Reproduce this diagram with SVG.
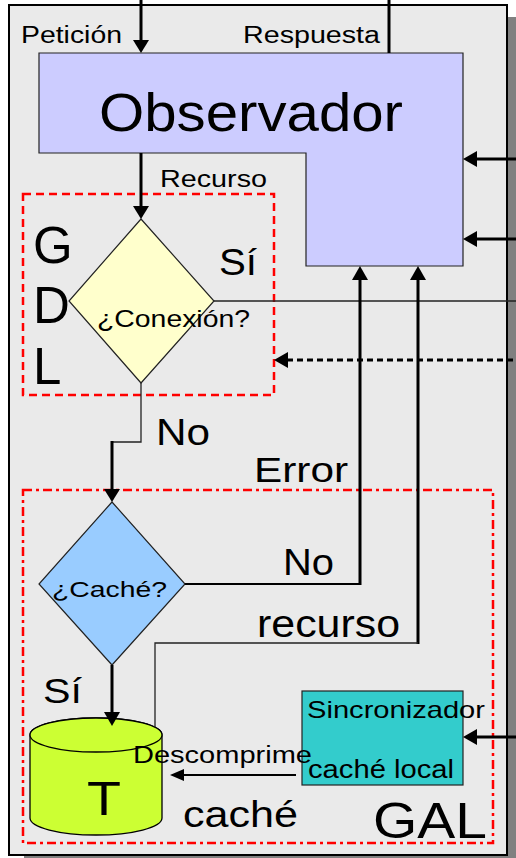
<svg xmlns="http://www.w3.org/2000/svg" width="516" height="858" viewBox="0 0 516 858">
<style>
text{font-family:"Liberation Sans",Arial,sans-serif;fill:#000}
.thick{stroke:#000;stroke-width:3;fill:none}
.thin{stroke:#222;stroke-width:1.3;fill:none}
.head{fill:#000;stroke:none}
.node{stroke:#222;stroke-width:1.2}
</style>
<g id="frame">
<rect x="508" y="17" width="8" height="841" fill="#808080"/>
<rect x="24" y="856" width="492" height="2" fill="#808080"/>
<rect x="9" y="5" width="498" height="850" fill="#eaeaea" stroke="#000" stroke-width="2"/>
</g>
<g id="observador">
<polygon class="node" points="39,53 463,53 463,266 306,266 306,153 39,153" fill="#ccccff"/>
<text x="99" y="131" font-size="54" textLength="304" lengthAdjust="spacingAndGlyphs">Observador</text>
</g>
<g id="gdl">
<rect x="23" y="194" width="251" height="201" fill="none" stroke="#ff0000" stroke-width="2.5" stroke-dasharray="8 5"/>
<text x="33" y="263" font-size="51">G</text>
<text x="33" y="323" font-size="51">D</text>
<text x="33" y="384" font-size="51">L</text>
</g>
<g id="conexion">
<polygon class="node" points="141,219 214,301 141,383 69,301" fill="#ffffcc"/>
<text x="97" y="327" font-size="24" textLength="153" lengthAdjust="spacingAndGlyphs">¿Conexión?</text>
</g>
<g id="gal">
<rect x="23" y="490" width="470" height="353" fill="none" stroke="#ff0000" stroke-width="2.5" stroke-dasharray="9 4 3 4"/>
<text x="373" y="838" font-size="50" textLength="114" lengthAdjust="spacingAndGlyphs">GAL</text>
</g>
<g id="cache">
<polygon class="node" points="112,502 185,584 112,665 39,584" fill="#99ccff"/>
<text x="52" y="597" font-size="22" textLength="115" lengthAdjust="spacingAndGlyphs">¿Caché?</text>
</g>
<g id="tcache">
<path d="M30,735 A66,17 0 0,1 162,735 L162,818 A66,17 0 0,1 30,818 Z" fill="#ccff33" stroke="#000" stroke-width="1.3"/>
<ellipse cx="96" cy="735" rx="66" ry="17" fill="#ccff33" stroke="#000" stroke-width="1.3"/>
<text x="87" y="815" font-size="48" textLength="34" lengthAdjust="spacingAndGlyphs">T</text>
</g>
<g id="sincronizador">
<rect class="node" x="302" y="691" width="161" height="94" fill="#33cccc"/>
<text x="307" y="718" font-size="24" textLength="178" lengthAdjust="spacingAndGlyphs">Sincronizador</text>
<text x="308" y="778" font-size="25" textLength="146" lengthAdjust="spacingAndGlyphs">caché local</text>
</g>
<g id="connectors">
<line class="thick" x1="141" y1="0" x2="141" y2="41"/>
<polygon class="head" points="133,40 149,40 141,53"/>
<line class="thick" x1="389" y1="0" x2="389" y2="53"/>
<line class="thick" x1="476" y1="159" x2="516" y2="159"/>
<polygon class="head" points="463,159 477,151 477,167"/>
<line class="thick" x1="476" y1="239" x2="516" y2="239"/>
<polygon class="head" points="463,239 477,231 477,247"/>
<line class="thick" x1="141" y1="153" x2="141" y2="207"/>
<polygon class="head" points="133,206 149,206 141,219"/>
<line class="thin" x1="214" y1="301" x2="516" y2="301"/>
<line x1="287" y1="360" x2="516" y2="360" stroke="#000" stroke-width="3" stroke-dasharray="6 4"/>
<polygon class="head" points="274,360 288,352 288,368"/>
<line class="thick" x1="360" y1="585" x2="360" y2="278"/>
<polygon class="head" points="360,266 352,280 368,280"/>
<line class="thick" x1="418" y1="644" x2="418" y2="278"/>
<polygon class="head" points="418,266 410,280 426,280"/>
<line x1="185" y1="584" x2="361" y2="584" stroke="#000" stroke-width="1.8"/>
<polyline class="thin" points="418,643 155,643 155,727"/>
<polyline class="thin" points="141,383 141,442 112,442"/>
<line class="thick" x1="112" y1="441" x2="112" y2="490"/>
<polygon class="head" points="104,489 120,489 112,502"/>
<line class="thick" x1="112" y1="665" x2="112" y2="713"/>
<polygon class="head" points="104,712 120,712 112,726"/>
<line class="thick" x1="476" y1="737" x2="516" y2="737"/>
<polygon class="head" points="463,737 477,729 477,745"/>
<line x1="182" y1="775" x2="296" y2="775" stroke="#000" stroke-width="2.2"/>
<polygon class="head" points="170,775 184,769 184,781"/>
</g>
<g id="labels">
<text x="21" y="43" font-size="23" textLength="101" lengthAdjust="spacingAndGlyphs">Petición</text>
<text x="243" y="43" font-size="23" textLength="137" lengthAdjust="spacingAndGlyphs">Respuesta</text>
<text x="160" y="187" font-size="23" textLength="107" lengthAdjust="spacingAndGlyphs">Recurso</text>
<text x="219" y="275" font-size="36" textLength="38" lengthAdjust="spacingAndGlyphs">Sí</text>
<text x="156" y="445" font-size="37" textLength="54" lengthAdjust="spacingAndGlyphs">No</text>
<text x="254" y="482" font-size="35" textLength="94" lengthAdjust="spacingAndGlyphs">Error</text>
<text x="283" y="575" font-size="37" textLength="51" lengthAdjust="spacingAndGlyphs">No</text>
<text x="257" y="637" font-size="38" textLength="143" lengthAdjust="spacingAndGlyphs">recurso</text>
<text x="43" y="703" font-size="35" textLength="39" lengthAdjust="spacingAndGlyphs">Sí</text>
<text x="133" y="763" font-size="23" textLength="179" lengthAdjust="spacingAndGlyphs">Descomprime</text>
<text x="183" y="827" font-size="36" textLength="115" lengthAdjust="spacingAndGlyphs">caché</text>
</g>
</svg>
